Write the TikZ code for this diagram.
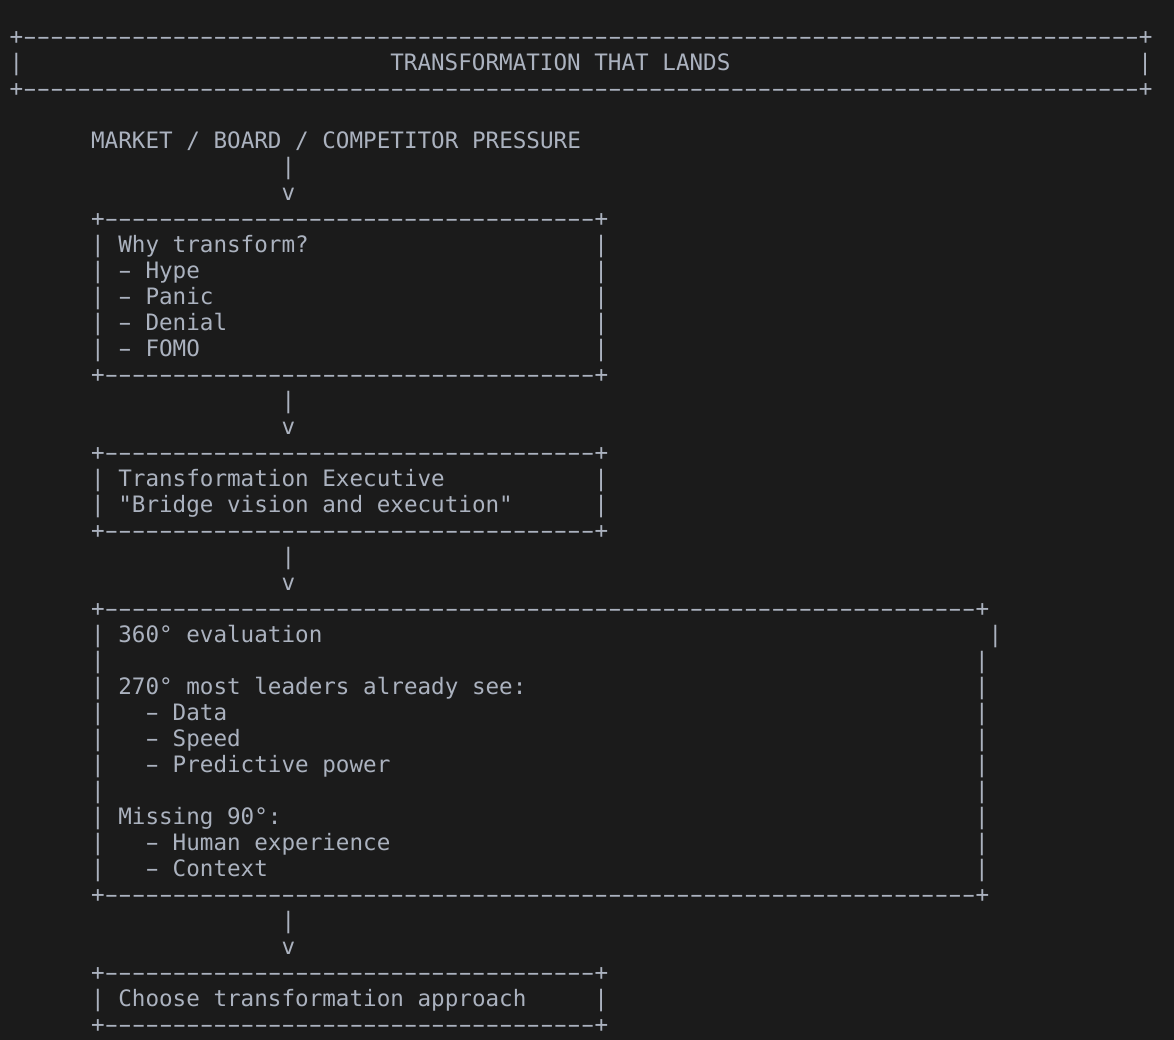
\documentclass[tikz,border=0pt]{standalone}
\usepackage{fontspec}
\usepackage{graphicx}
\newfontfamily\asciifont{DejaVu Sans Mono}[Ligatures=TeXOff,WordSpace={1,0,0},PunctuationSpace=WordSpace]
\ExplSyntaxOn
\cs_new:Npn \myrep #1#2 {\prg_replicate:nn{#1}{#2}}
\ExplSyntaxOff
\definecolor{bgc}{HTML}{1B1B1B}
\definecolor{fgc}{HTML}{ABB2BF}
\tikzset{ascii/.style={inner sep=0pt,outer sep=0pt,anchor=base west,text=fgc,
  font=\asciifont\fontsize{22.6}{26}\selectfont}}
% a wide hyphen, one cell wide
\newcommand\hy{\hbox to \fontcharwd\font`\-{\hss\scalebox{1.75}[1]{-}\hss}}
% name, row, col, text
\newcommand\txt[4]{\node[ascii] (#1) at ({9.5+13.6*(#3)},{44.5+26*(#2)}) {#4};}
% name, row, col start, col end
\newcommand\brd[4]{\txt{#1}{#2}{#3}{+\myrep{#4-#3-1}{\hy}+}}
% name, row, left col, text, right col
\newcommand\bxl[5]{\txt{#1L}{#2}{#3}{|}\txt{#1}{#2}{#3+2}{#4}\txt{#1R}{#2}{#5}{|}}
% same, text indented by two more columns
\newcommand\bxi[5]{\txt{#1L}{#2}{#3}{|}\txt{#1}{#2}{#3+4}{#4}\txt{#1R}{#2}{#5}{|}}
% name, row, left col, right col (empty line)
\newcommand\bxe[4]{\txt{#1L}{#2}{#3}{|}\txt{#1R}{#2}{#4}{|}}
\begin{document}
\begin{tikzpicture}[x=1pt,y=-1pt]
\fill[bgc] (0,0) rectangle (1174,1040);
\useasboundingbox (0,0) rectangle (1174,1040);
% title
\brd{titletop}{0}{0}{83}
\txt{titleL}{1}{0}{|}
\txt{title}{1}{28}{TRANSFORMATION THAT LANDS}
\txt{titleR}{1}{83}{|}
\brd{titlebot}{2}{0}{83}
% pressure
\txt{pressure}{4}{6}{MARKET / BOARD / COMPETITOR PRESSURE}
\txt{ca1}{5}{20}{|}
\txt{ca2}{6}{20}{v}
% why box
\brd{whytop}{7}{6}{43}
\bxl{why}{8}{6}{Why transform?}{43}
\bxl{hype}{9}{6}{\hy{} Hype}{43}
\bxl{panic}{10}{6}{\hy{} Panic}{43}
\bxl{denial}{11}{6}{\hy{} Denial}{43}
\bxl{fomo}{12}{6}{\hy{} FOMO}{43}
\brd{whybot}{13}{6}{43}
\txt{cb1}{14}{20}{|}
\txt{cb2}{15}{20}{v}
% executive box
\brd{exectop}{16}{6}{43}
\bxl{exec}{17}{6}{Transformation Executive}{43}
\bxl{bridge}{18}{6}{"Bridge vision and execution"}{43}
\brd{execbot}{19}{6}{43}
\txt{cc1}{20}{20}{|}
\txt{cc2}{21}{20}{v}
% evaluation box
\brd{evaltop}{22}{6}{71}
\bxl{eval}{23}{6}{360° evaluation}{72}
\bxe{evalsp}{24}{6}{71}
\bxl{seen}{25}{6}{270° most leaders already see:}{71}
\bxi{data}{26}{6}{\hy{} Data}{71}
\bxi{speed}{27}{6}{\hy{} Speed}{71}
\bxi{pred}{28}{6}{\hy{} Predictive power}{71}
\bxe{evalsp2}{29}{6}{71}
\bxl{missing}{30}{6}{Missing 90°:}{71}
\bxi{human}{31}{6}{\hy{} Human experience}{71}
\bxi{context}{32}{6}{\hy{} Context}{71}
\brd{evalbot}{33}{6}{71}
\txt{cd1}{34}{20}{|}
\txt{cd2}{35}{20}{v}
% approach box
\brd{apptop}{36}{6}{43}
\bxl{approach}{37}{6}{Choose transformation approach}{43}
\brd{appbot}{38}{6}{43}
\end{tikzpicture}
\end{document}
